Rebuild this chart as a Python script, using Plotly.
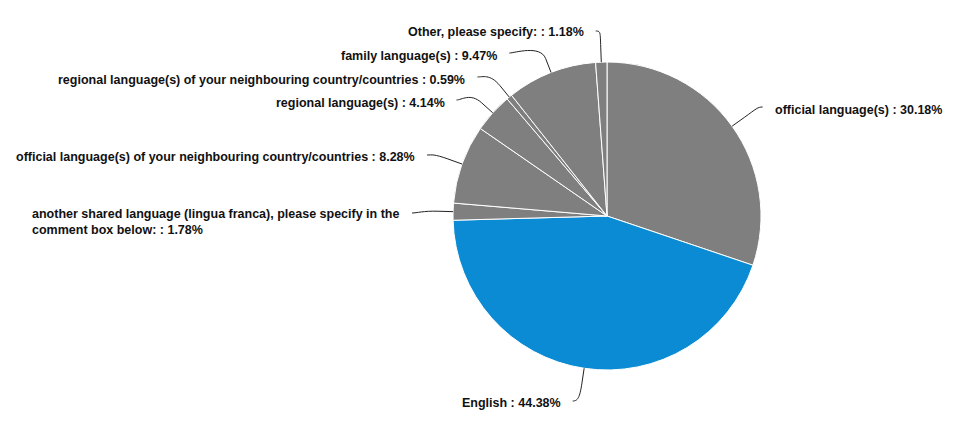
import math
import plotly.graph_objects as go

# ---- data ----
labels = [
    "official language(s)",
    "English",
    "another shared language (lingua franca), please specify in the<br>comment box below:",
    "official language(s) of your neighbouring country/countries",
    "regional language(s)",
    "regional language(s) of your neighbouring country/countries",
    "family language(s)",
    "Other, please specify:",
]
values = [30.18, 44.38, 1.78, 8.28, 4.14, 0.59, 9.47, 1.18]
colors = ["#7f7f7f", "#0a8bd4", "#7f7f7f", "#7f7f7f", "#7f7f7f", "#7f7f7f", "#7f7f7f", "#7f7f7f"]

# ---- layout constants (pixels, in window coordinates) ----
OFF = 8                # default page body margin
W, H = 956 - 2 * OFF, 423 - 2 * OFF
CX, CY, R = 607, 216, 154
LABEL_R = 190          # radius at which connectors start
BREAK_D = 15           # radial break distance beyond edge
GAP = 10               # gap between connector start and text anchor
# positions of label connectors (after de-overlapping), pixels
label_y = [107, 401, 213, 155, 100, 77, 53, 31]
label_dx = [0, 9, -5, 0, 0, 0, 0, 32]
text_dy = [3, 2, 8.5, 2, 3, 3, 3, 1]


def px(x):
    return (x - OFF) / W


def py(y):
    return 1 - (y - OFF) / H


fig = go.Figure(go.Pie(
    labels=labels,
    values=values,
    sort=False,
    direction="clockwise",
    rotation=0,
    marker=dict(colors=colors, line=dict(color="#ffffff", width=1)),
    textinfo="none",
    hoverinfo="label+percent",
    showlegend=False,
    domain=dict(x=[px(CX - R), px(CX + R)], y=[py(CY + R), py(CY - R)]),
))

total = sum(values)
cum = 0.0
shapes = []
annotations = []
for i, (lab, v) in enumerate(zip(labels, values)):
    mid = (cum + v / 2) / total * 2 * math.pi
    cum += v
    s, c = math.sin(mid), math.cos(mid)
    right = s >= 0
    tx, ty = CX + R * s, CY - R * c
    bx, by = CX + (R + BREAK_D) * s, CY - (R + BREAK_D) * c
    ly = label_y[i]
    dy = ly - CY
    lx = CX + (1 if right else -1) * math.sqrt(max(LABEL_R ** 2 - dy ** 2, 0)) + label_dx[i]
    c1x = lx + (-5 if right else 5)
    c2x, c2y = 2 * bx - tx, 2 * by - ty
    path = (f"M {px(lx)},{py(ly)} C {px(c1x)},{py(ly)} {px(c2x)},{py(c2y)} "
            f"{px(bx)},{py(by)} L {px(tx)},{py(ty)}")
    shapes.append(dict(type="path", path=path, xref="paper", yref="paper",
                       line=dict(color="#222222", width=1), layer="above"))
    pct = f"{v:.2f}%"
    annotations.append(dict(
        x=px(lx + (GAP if right else -GAP)), y=py(ly + text_dy[i]),
        xref="paper", yref="paper",
        text=f"<b>{lab} : {pct}</b>",
        showarrow=False,
        xanchor="left" if right else "right",
        yanchor="middle",
        align="left",
        font=dict(family="Liberation Sans, Arial, sans-serif", size=12.5, color="#111111"),
    ))

fig.update_layout(
    width=W, height=H,
    margin=dict(l=0, r=0, t=0, b=0),
    paper_bgcolor="#ffffff",
    plot_bgcolor="#ffffff",
    shapes=shapes,
    annotations=annotations,
)

fig.write_html("out.html")
